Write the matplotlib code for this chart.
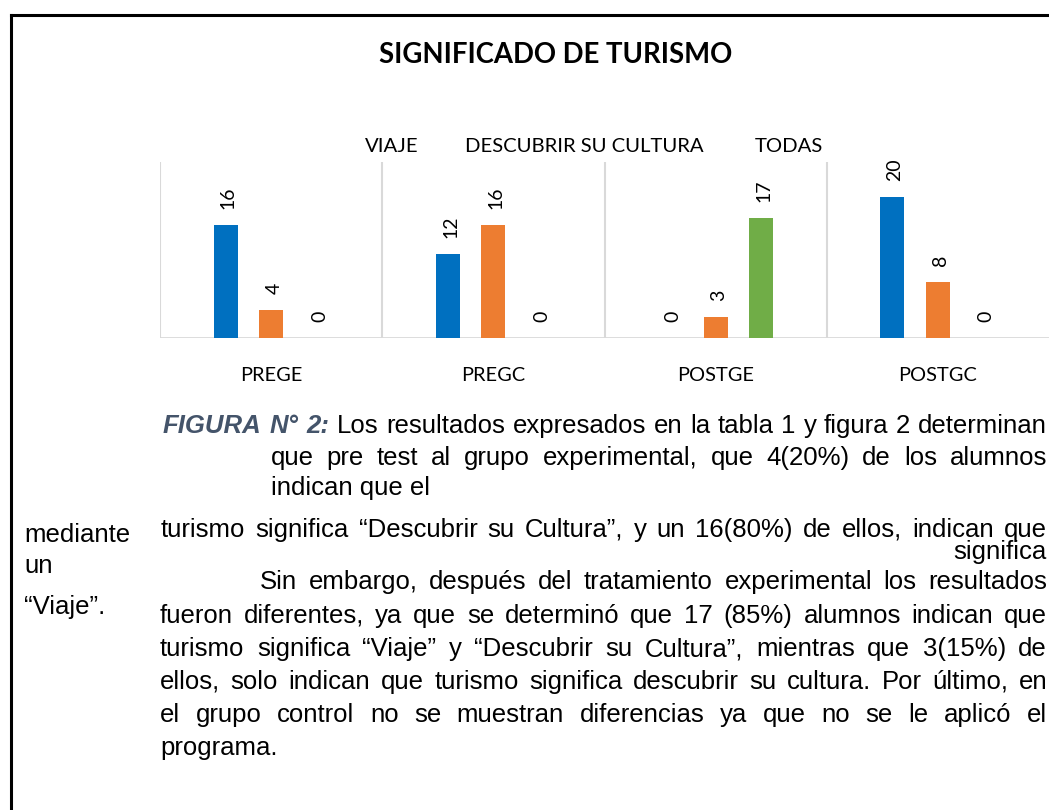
import matplotlib
matplotlib.use("Agg")
import matplotlib.pyplot as plt
from matplotlib.lines import Line2D
import numpy as np

# ---- data ----
categories = ["PREGE", "PREGC", "POSTGE", "POSTGC"]
series_names = ["VIAJE", "DESCUBRIR SU CULTURA", "TODAS"]
viaje = [16, 12, 0, 20]
descubrir = [4, 16, 3, 8]
todas = [0, 0, 17, 0]
title = "SIGNIFICADO DE TURISMO"

W, H = 1049, 810
fig = plt.figure(figsize=(W / 100, H / 100), dpi=100)
fig.patch.set_facecolor("white")

CH_FONT = ["Lato", "DejaVu Sans"]
TX_FONT = ["Liberation Sans", "DejaVu Sans"]

def fx(x):
    return x / W

def fy(y):
    return 1 - y / H

# ---- border ----
fig.add_artist(Line2D([fx(10.5), fx(10.5)], [fy(15), 0], color="black", lw=2.2, transform=fig.transFigure))
fig.add_artist(Line2D([fx(10.5), 1], [fy(15), fy(15)], color="black", lw=2.2, transform=fig.transFigure))

# ---- chart ----
ax = fig.add_axes([fx(160), fy(338), fx(1049) - fx(160), (338 - 162) / H])
colors = ["#0070C0", "#ED7D31", "#70AD47"]
x = np.arange(len(categories))
bw = 0.108
offs = [-0.205, 0.0, 0.205]
for vals, off, c in zip([viaje, descubrir, todas], offs, colors):
    bars = ax.bar(x + off, vals, width=bw, color=c, zorder=3)
    for b, v in zip(bars, vals):
        ax.annotate(str(v), (b.get_x() + b.get_width() / 2, v), xytext=(2, 11.5),
                    textcoords="offset points", rotation=90, ha="center", va="bottom",
                    fontsize=14, family=CH_FONT, color="#000000")

ax.set_xlim(-0.5, 3.5)
ax.set_ylim(0, 25)
for s in ax.spines.values():
    s.set_visible(False)
ax.set_yticks([])
ax.set_xticks(x)
ax.set_xticklabels(categories, fontsize=14.4, family=CH_FONT)
ax.tick_params(axis="x", length=0, pad=21)
for b in [-0.5, 0.5, 1.5, 2.5]:
    ax.axvline(b, color="#d9d9d9", lw=1.5, zorder=1)
ax.axhline(0, color="#d9d9d9", lw=2, zorder=2)

# legend (text only)
for name, lx in zip(series_names, [365, 465, 755]):
    fig.text(fx(lx), fy(146), name, ha="left", va="center", fontsize=14.6, family=CH_FONT)

fig.text(fx(556), fy(55), title, ha="center", va="center", fontsize=19.8, fontweight="bold", family=CH_FONT)

# ---- paragraph text ----
r = fig.canvas.get_renderer()
TXS = 18.5
BL = 8  # baseline offset (px) below the visual line centre
BI = dict(fontweight="bold", fontstyle="italic", color="#44546A")

def justify(tokens, x0, x1, y):
    arts = []
    widths = []
    for tok in tokens:
        if isinstance(tok, tuple):
            word, style = tok
        else:
            word, style = tok, {}
        t = fig.text(0, fy(y + BL), word, ha="left", va="baseline", fontsize=TXS, family=TX_FONT, **style)
        bb = t.get_window_extent(renderer=r)
        arts.append(t)
        widths.append(bb.width)
    gap = (x1 - x0 - sum(widths)) / max(len(tokens) - 1, 1)
    cx = x0
    for t, w in zip(arts, widths):
        t.set_x(fx(cx))
        cx += w + gap

def plain(s, x0, y, ha="left"):
    fig.text(fx(x0), fy(y + BL), s, ha=ha, va="baseline", fontsize=TXS, family=TX_FONT)

line1 = [("FIGURA", BI), ("N°", BI), ("2:", BI)] + "Los resultados expresados en la tabla 1 y figura 2 determinan".split()
justify(line1, 163, 1047, 425)
justify("que pre test al grupo experimental, que 4(20%) de los alumnos".split(), 271, 1047, 457)
plain("indican que el", 271, 487)
justify("turismo significa “Descubrir su Cultura”, y un 16(80%) de ellos, indican que".split(), 161, 1047, 529)
plain("significa", 1047, 551, ha="right")
justify("Sin embargo, después del tratamiento experimental los resultados".split(), 260, 1047, 581)
justify("fueron diferentes, ya que se determinó que 17 (85%) alumnos indican que".split(), 160, 1047, 615)
justify("turismo significa “Viaje” y “Descubrir su Cultura”, mientras que 3(15%) de".split(), 160, 1047, 648)
justify("ellos, solo indican que turismo significa descubrir su cultura. Por último, en".split(), 160, 1047, 681)
justify("el grupo control no se muestran diferencias ya que no se le aplicó el".split(), 160, 1047, 714)
plain("programa.", 160, 747)
plain("mediante", 24, 534)
plain("un", 24, 565)
plain("“Viaje”.", 24, 606)

fig.savefig("out.png", dpi=100, facecolor="white")
